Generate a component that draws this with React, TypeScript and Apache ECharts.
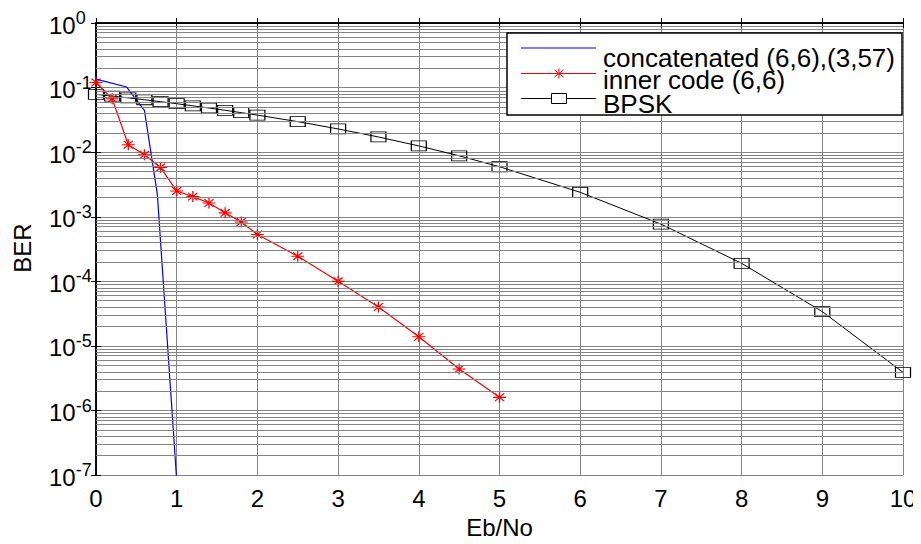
import React, { useEffect, useRef } from "react";
import * as echarts from "echarts";

// ---- data ----
const SERIES_NAMES = ["concatenated (6,6),(3,57)", "inner code (6,6)", "BPSK"];

const EBNO_CONCAT = [0, 0.38, 0.6, 0.76, 1.0];
const BER_CONCAT = [0.135, 0.102, 0.0443, 0.00224, 8.3e-8];

const EBNO_INNER = [0, 0.2, 0.4, 0.6, 0.8, 1.0, 1.2, 1.4, 1.6, 1.8, 2, 2.5, 3, 3.5, 4, 4.5, 5];
const BER_INNER = [
  0.12, 0.067, 0.013, 0.0091, 0.0058, 0.0025, 0.00205, 0.00163, 0.00115, 0.00083,
  0.00053, 2.45e-4, 1.0e-4, 4.0e-5, 1.39e-5, 4.4e-6, 1.6e-6,
];

const EBNO_BPSK = [0, 0.2, 0.4, 0.6, 0.8, 1.0, 1.2, 1.4, 1.6, 1.8, 2, 2.5, 3, 3.5, 4, 4.5, 5, 6, 7, 8, 9, 10];
const BER_BPSK = [
  0.0786, 0.0739, 0.0693, 0.0648, 0.0605, 0.0563, 0.0522, 0.0483, 0.0445, 0.0409,
  0.0375, 0.0297, 0.0229, 0.0172, 0.0125, 0.00879, 0.00595, 0.00239, 7.7e-4, 1.9e-4,
  3.4e-5, 3.9e-6,
];

const X_MIN = 0;
const X_MAX = 10;
const Y_MIN_EXP = -7;
const Y_MAX_EXP = 0;
const MINOR_FACTORS = [2, 3, 4, 5, 6, 7, 8, 9];
const X_TITLE = "Eb/No";
const Y_TITLE = "BER";

const FONT = "'Liberation Sans', Arial, Helvetica, sans-serif";
const GRID_COLOR = "#848484";

const ASTERISK = "path://M5,0L5,10M0,5L10,5M1.5,1.5L8.5,8.5M1.5,8.5L8.5,1.5";

function pairs(xs: number[], ys: number[]) {
  return xs.map((x, i) => [x, ys[i]]);
}

export default function App() {
  const ref = useRef<HTMLDivElement>(null);

  useEffect(() => {
    if (!ref.current) return;
    const chart = echarts.init(ref.current, undefined, { renderer: "svg" });

    // minor (2..9 x 10^e) grid lines, placed on a hidden linear axis in log10 units
    const minorLines: { yAxis: number }[] = [];
    for (let e = Y_MIN_EXP; e < Y_MAX_EXP; e++) {
      for (const k of MINOR_FACTORS) minorLines.push({ yAxis: e + Math.log10(k) });
    }

    const axisLine = { show: true, lineStyle: { color: "#000", width: 1.5 } };
    const axisTick = { show: true, inside: true, length: 5, lineStyle: { color: "#000", width: 1 } };

    const legendX = 507;
    const legendY = 33;
    const rowY = [48, 73.5, 98.5];
    const textY = [57.5, 80, 104];
    const lineX1 = 521;
    const lineX2 = 596;
    const markX = 559;

    const asteriskLines = [
      [0, -5, 0, 5],
      [-6.5, 0, 6.5, 0],
      [-4.5, -3.5, 4.5, 3.5],
      [-4.5, 3.5, 4.5, -3.5],
    ].map((s) => ({
      type: "line",
      shape: { x1: markX + s[0], y1: rowY[1] + s[1], x2: markX + s[2], y2: rowY[1] + s[3] },
      style: { stroke: "#ff0000", lineWidth: 1 },
      z: 11,
    }));

    const option: any = {
      animation: false,
      backgroundColor: "#fff",
      textStyle: { fontFamily: FONT },
      grid: { left: 96, top: 23, right: 18, bottom: 54, containLabel: false },
      xAxis: [
        {
          type: "value",
          min: X_MIN,
          max: X_MAX,
          interval: 1,
          position: "bottom",
          name: X_TITLE,
          nameLocation: "middle",
          nameGap: 34,
          nameTextStyle: { fontSize: 24, color: "#000", fontFamily: FONT },
          axisLine,
          axisTick,
          axisLabel: { fontSize: 24, color: "#000", margin: 11, fontFamily: FONT },
          splitLine: { show: true, lineStyle: { color: GRID_COLOR, width: 1 } },
        },
        {
          type: "value",
          min: X_MIN,
          max: X_MAX,
          interval: 1,
          position: "top",
          axisLine,
          axisTick,
          axisLabel: { show: false },
          splitLine: { show: false },
        },
      ],
      yAxis: [
        {
          type: "log",
          logBase: 10,
          min: Math.pow(10, Y_MIN_EXP),
          max: Math.pow(10, Y_MAX_EXP),
          position: "left",
          axisLine,
          axisTick,
          axisLabel: {
            align: "left",
            margin: 47,
            fontFamily: FONT,
            formatter: (v: number) => `{b|10}{s|${Math.round(Math.log10(v))}}`,
            rich: {
              b: { fontSize: 24, color: "#000", lineHeight: 24, verticalAlign: "bottom", fontFamily: FONT },
              s: { fontSize: 18, color: "#000", lineHeight: 28, verticalAlign: "top", fontFamily: FONT },
            },
          },
          splitLine: { show: true, lineStyle: { color: GRID_COLOR, width: 1 } },
        },
        {
          type: "log",
          logBase: 10,
          min: Math.pow(10, Y_MIN_EXP),
          max: Math.pow(10, Y_MAX_EXP),
          position: "right",
          axisLine,
          axisTick,
          axisLabel: { show: false },
          splitLine: { show: false },
        },
        {
          type: "value",
          min: Y_MIN_EXP,
          max: Y_MAX_EXP,
          show: false,
          splitLine: { show: false },
        },
      ],
      series: [
        {
          type: "line",
          name: "minor-grid",
          yAxisIndex: 2,
          data: [],
          silent: true,
          z: 1,
          markLine: {
            silent: true,
            symbol: ["none", "none"],
            label: { show: false },
            emphasis: { disabled: true },
            lineStyle: { type: "solid", color: GRID_COLOR, width: 1 },
            data: minorLines,
          },
        },
        {
          type: "line",
          name: SERIES_NAMES[0],
          data: pairs(EBNO_CONCAT, BER_CONCAT),
          showSymbol: false,
          symbol: "none",
          lineStyle: { color: "#0000ff", width: 1.2 },
          itemStyle: { color: "#0000ff" },
          z: 3,
          clip: true,
        },
        {
          type: "line",
          name: SERIES_NAMES[1],
          data: pairs(EBNO_INNER, BER_INNER),
          symbol: ASTERISK,
          symbolSize: [13, 11],
          lineStyle: { color: "#ff0000", width: 1.2 },
          itemStyle: { color: "#ff0000", borderColor: "#ff0000", borderWidth: 1.2 },
          z: 4,
          clip: true,
        },
        {
          type: "line",
          name: SERIES_NAMES[2],
          data: pairs(EBNO_BPSK, BER_BPSK),
          symbol: "rect",
          symbolSize: [15, 10],
          lineStyle: { color: "#000", width: 1 },
          itemStyle: { color: "none", borderColor: "#000", borderWidth: 1 },
          z: 3,
          clip: true,
        },
      ],
      graphic: [
        {
          type: "text",
          x: 22,
          y: 248,
          rotation: Math.PI / 2,
          style: {
            text: Y_TITLE,
            fontSize: 24,
            fontFamily: FONT,
            fill: "#000",
            align: "center",
            verticalAlign: "middle",
          },
        },
        {
          type: "rect",
          shape: { x: legendX, y: legendY, width: 395, height: 82 },
          style: { fill: "#fff", stroke: "#000", lineWidth: 1.5 },
          z: 10,
        },
        {
          type: "line",
          shape: { x1: lineX1, y1: rowY[0], x2: lineX2, y2: rowY[0] },
          style: { stroke: "#0000ff", lineWidth: 1.2 },
          z: 11,
        },
        {
          type: "line",
          shape: { x1: lineX1, y1: rowY[1], x2: lineX2, y2: rowY[1] },
          style: { stroke: "#ff0000", lineWidth: 1.2 },
          z: 11,
        },
        ...asteriskLines,
        {
          type: "line",
          shape: { x1: lineX1, y1: rowY[2], x2: lineX2, y2: rowY[2] },
          style: { stroke: "#000", lineWidth: 1 },
          z: 11,
        },
        {
          type: "rect",
          shape: { x: markX - 7.5, y: rowY[2] - 5, width: 15, height: 10 },
          style: { fill: "#fff", stroke: "#000", lineWidth: 1 },
          z: 11,
        },
        ...SERIES_NAMES.map((t, i) => ({
          type: "text",
          x: 603,
          y: textY[i],
          style: {
            text: t,
            fontSize: 26,
            lineHeight: 21,
            fontFamily: FONT,
            fill: "#000",
            align: "left",
            verticalAlign: "middle",
          },
          z: 12,
        })),
      ],
    };

    chart.setOption(option);
    return () => chart.dispose();
  }, []);

  return <div ref={ref} style={{ width: 921, height: 544, margin: -8 }} />;
}
